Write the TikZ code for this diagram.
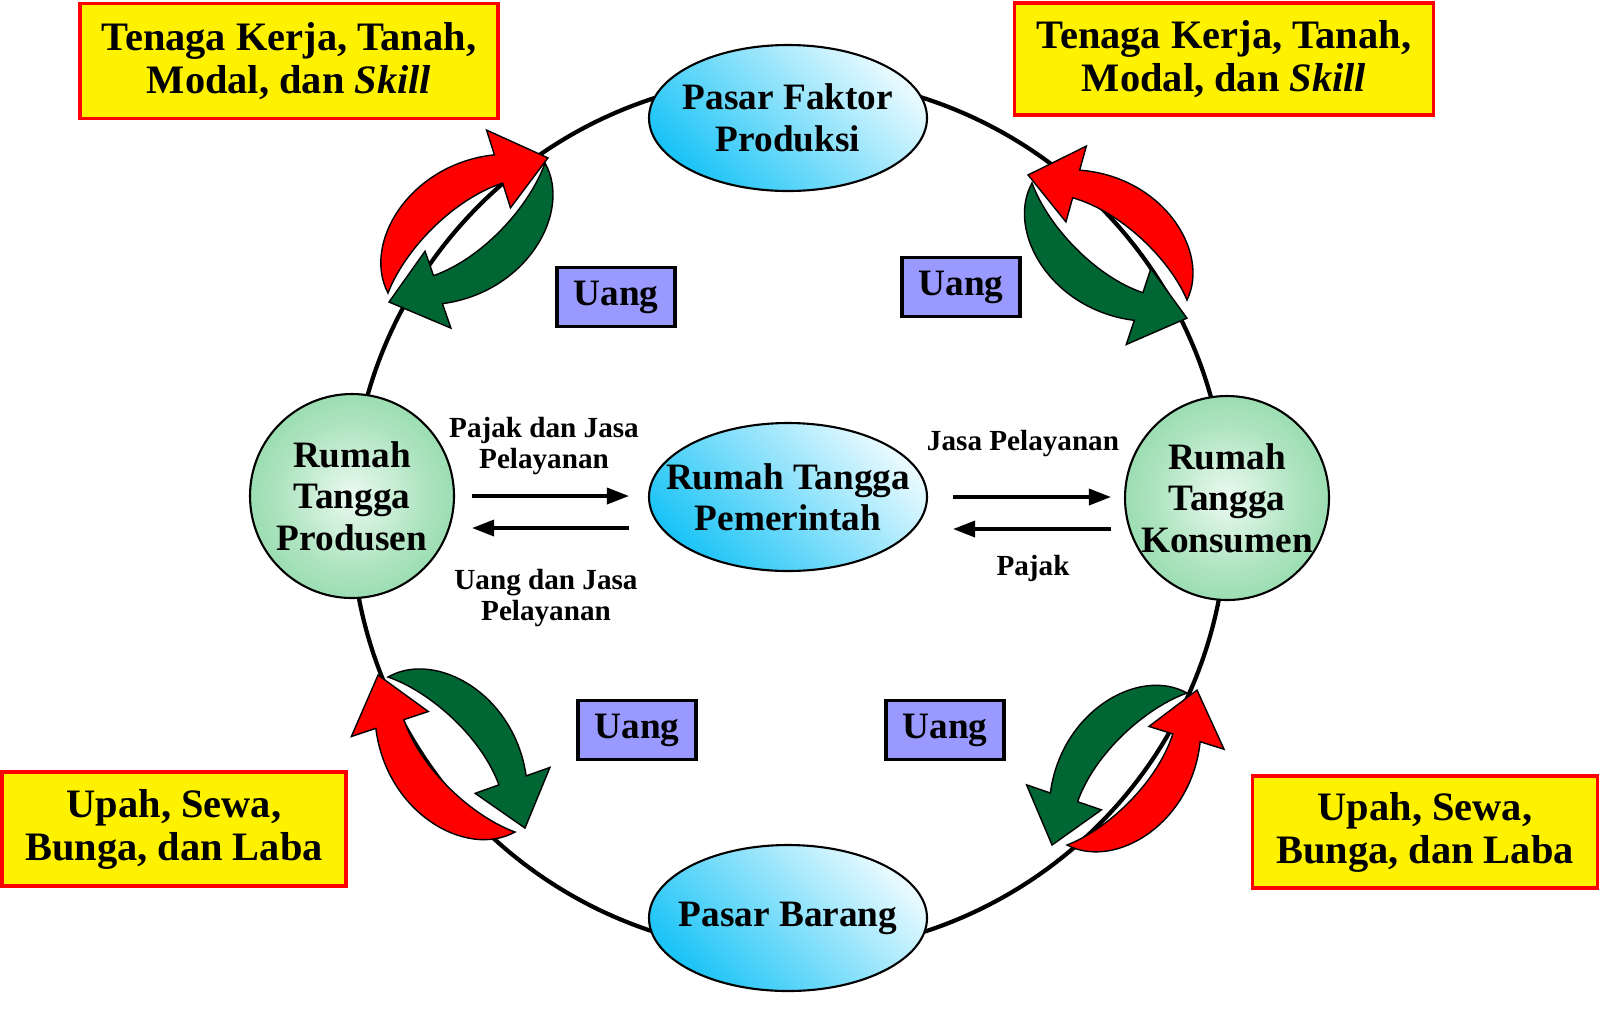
\documentclass[tikz,border=0pt]{standalone}
\usepackage{fontspec}
\setmainfont{Liberation Serif}
\usetikzlibrary{shapes.geometric,arrows.meta}

\definecolor{skyc}{RGB}{28,196,246}
\definecolor{skylight}{RGB}{232,250,255}
\definecolor{mint}{RGB}{96,200,132}
\definecolor{mintlight}{RGB}{236,250,240}
\definecolor{uangblue}{RGB}{153,153,255}
\definecolor{swred}{RGB}{255,0,0}
\definecolor{swgreen}{RGB}{0,102,51}

\pgfdeclareradialshading{rumahball}{\pgfpoint{0bp}{0bp}}{color(0bp)=(mintlight); color(18bp)=(mint!45!mintlight); color(50bp)=(mint); color(100bp)=(mint)}

\tikzset{
  pasar/.style={ellipse, draw=black, line width=0.6pt, minimum width=2.78cm, minimum height=1.46cm,
    inner xsep=-3mm, inner ysep=-2mm, top color=skylight, bottom color=skyc, shading angle=-45,
    align=center, font=\fontsize{10.6}{11.8}\selectfont\bfseries},
  rumah/.style={circle, draw=black, line width=0.6pt, minimum size=2.04cm, inner sep=-1mm,
    shade, shading=rumahball, align=center, font=\fontsize{10.6}{11.8}\selectfont\bfseries},
  faktorbox/.style={rectangle, draw=red, line width=1pt, fill=yellow, align=center,
    font=\fontsize{11.5}{12.2}\selectfont\bfseries},
  uangbox/.style={rectangle, draw=black, line width=1.1pt, fill=uangblue, minimum width=1.18cm,
    minimum height=0.59cm, font=\fontsize{10.6}{11.8}\selectfont\bfseries},
  flow/.style={-{Triangle[length=2.2mm,width=1.6mm]}, line width=1pt},
  flowlabel/.style={align=center, font=\fontsize{8.3}{8.9}\selectfont\bfseries},
}

% curved block arrow, tail at (0,0), tip at (2.1,0), bulging to the left
\newcommand{\swoosh}[2]{%
  \begin{scope}[#2]
    \filldraw[fill=#1, draw=black, line width=0.4pt]
      (0,0) .. controls (0.12,0.55) and (1.0,0.85) .. (1.71,0.37)
      -- (1.81,0.61) -- (2.10,0) -- (1.49,-0.14) -- (1.59,0.10)
      .. controls (1.10,0.30) and (0.40,0.22) .. (0,0) -- cycle;
  \end{scope}}

\begin{document}
\begin{tikzpicture}
\useasboundingbox (0,0) rectangle (16,-10.27);
% the big flow circle
\draw[line width=1.2pt] (7.89,-5.15) circle (4.38);
%
% top left pair
\swoosh{swred}{shift={(3.88,-2.93)}, rotate=40.2, scale=0.997}
\swoosh{swgreen}{shift={(5.45,-1.63)}, rotate=221.7, scale=0.995}
% top right pair
\swoosh{swred}{shift={(11.87,-3.00)}, rotate=141.8, scale=0.963, yscale=-1}
\swoosh{swgreen}{shift={(10.32,-1.83)}, rotate=-41.1, scale=0.979, yscale=-1}
% bottom left pair
\swoosh{swred}{shift={(5.15,-8.32)}, rotate=131.1, scale=0.992}
\swoosh{swgreen}{shift={(3.88,-6.77)}, rotate=-47.8, scale=0.971}
% bottom right pair
\swoosh{swred}{shift={(10.67,-8.45)}, rotate=50.0, scale=0.963, yscale=-1}
\swoosh{swgreen}{shift={(11.87,-6.93)}, rotate=228.4, scale=0.968, yscale=-1}
%
% markets and households
\node[pasar] (faktor) at (7.88,-1.18) {Pasar Faktor\\Produksi};
\node[pasar] (barang) at (7.88,-9.18) {Pasar Barang};
\node[pasar, minimum height=1.48cm] (pemerintah) at (7.88,-4.97) {Rumah Tangga\\Pemerintah};
\node[rumah] (produsen) at (3.52,-4.96) {Rumah\\Tangga\\Produsen};
\node[rumah] (konsumen) at (12.27,-4.98) {Rumah\\Tangga\\Konsumen};
%
% money
\node[uangbox] (uang1) at (6.16,-2.97) {Uang};
\node[uangbox] (uang2) at (9.61,-2.87) {Uang};
\node[uangbox] (uang3) at (6.37,-7.30) {Uang};
\node[uangbox] (uang4) at (9.45,-7.30) {Uang};
%
% factors and incomes
\node[faktorbox, minimum width=4.18cm, minimum height=1.15cm] (faktor1) at (2.89,-0.61)
  {Tenaga Kerja, Tanah,\\Modal, dan \textit{Skill}};
\node[faktorbox, minimum width=4.19cm, minimum height=1.12cm] (faktor2) at (12.24,-0.59)
  {Tenaga Kerja, Tanah,\\Modal, dan \textit{Skill}};
\node[faktorbox, minimum width=3.44cm, minimum height=1.14cm] (upah1) at (1.74,-8.29)
  {Upah, Sewa,\\Bunga, dan Laba};
\node[faktorbox, minimum width=3.45cm, minimum height=1.12cm] (upah2) at (14.25,-8.32)
  {Upah, Sewa,\\Bunga, dan Laba};
%
% flows with the government
\draw[flow, shorten <=1.7mm, shorten >=1.9mm] (produsen.east) -- (produsen.east -| pemerintah.west);
\draw[flow, shorten <=1.9mm, shorten >=1.7mm] ([yshift=-3.1mm]pemerintah.west) -- ([yshift=-3.1mm]pemerintah.west -| produsen.east);
\draw[flow, shorten <=2.5mm, shorten >=1.3mm] (pemerintah.east) -- (pemerintah.east -| konsumen.west);
\draw[flow, shorten <=1.3mm, shorten >=2.5mm] ([yshift=-3.1mm]konsumen.west) -- ([yshift=-3.1mm]pemerintah.east |- konsumen.west);
\node[flowlabel] (lbl1) at (5.44,-4.46) {Pajak dan Jasa\\Pelayanan};
\node[flowlabel] (lbl2) at (5.46,-5.98) {Uang dan Jasa\\Pelayanan};
\node[flowlabel] (lbl3) at (10.23,-4.44) {Jasa Pelayanan};
\node[flowlabel] (lbl4) at (10.33,-5.68) {Pajak};
\end{tikzpicture}
\end{document}
